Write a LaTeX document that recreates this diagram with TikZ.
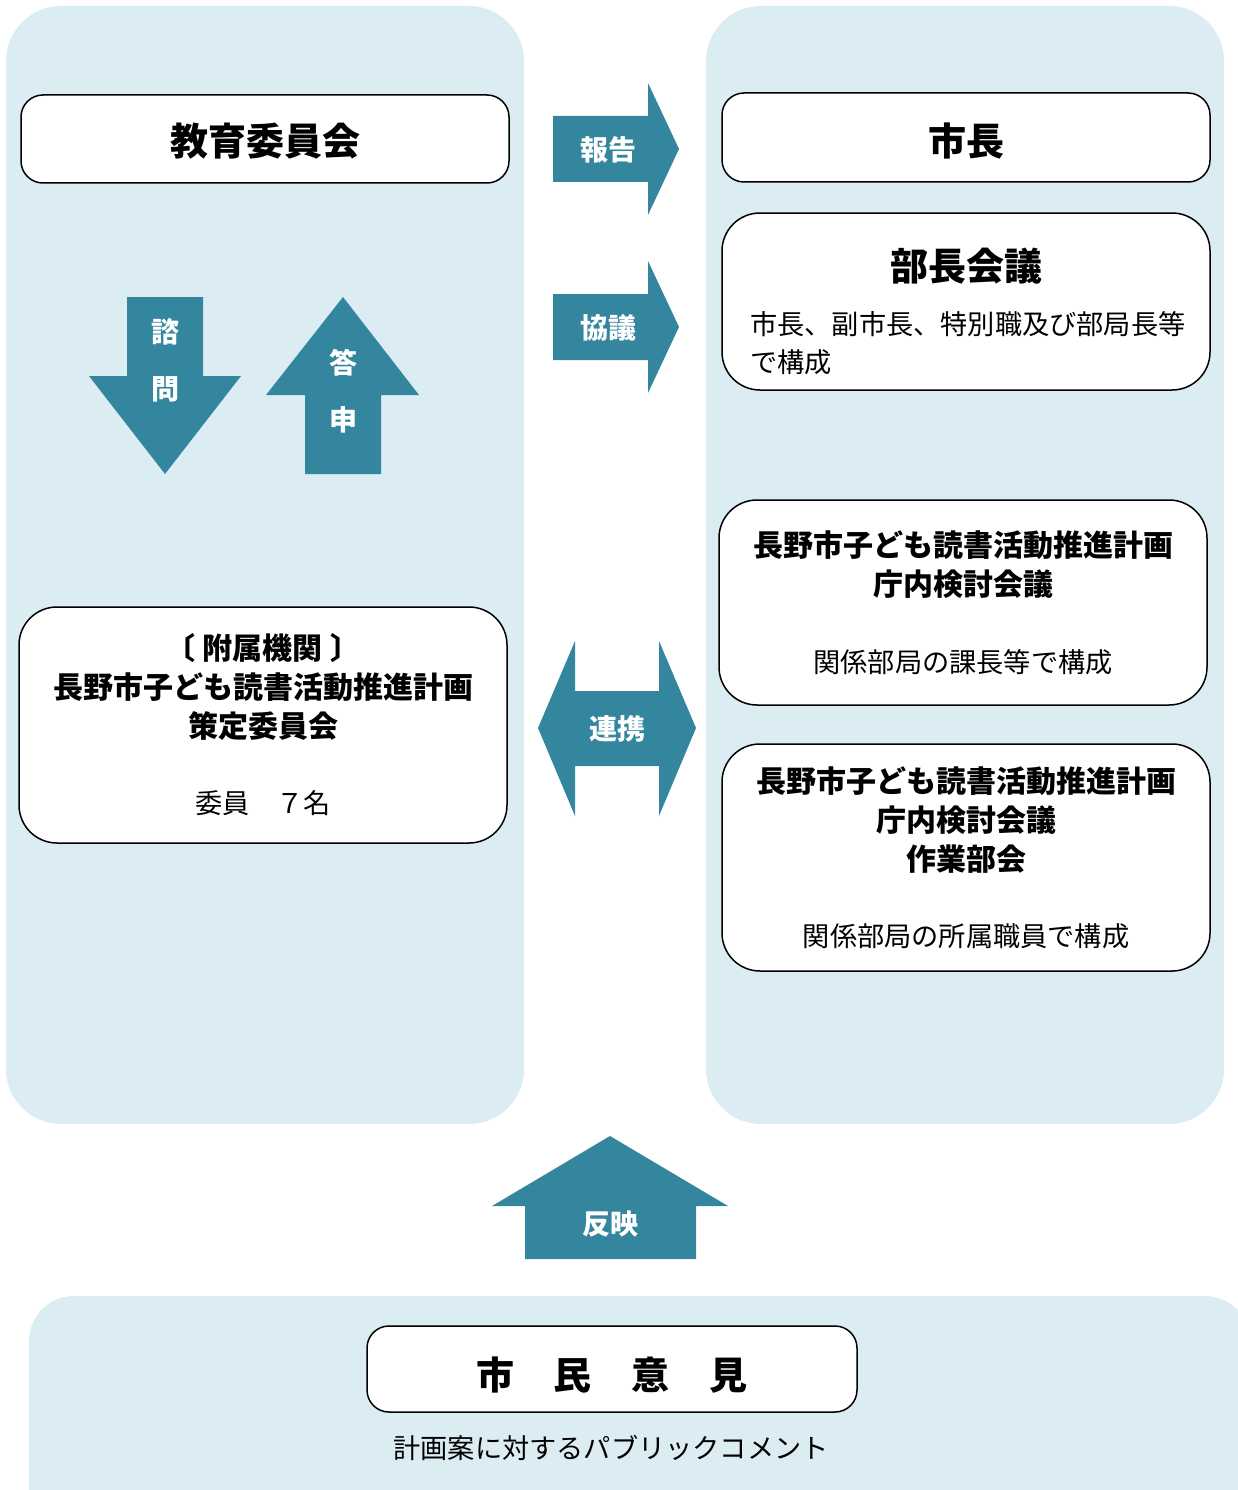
\documentclass[tikz,border=0pt]{standalone}
\usepackage{fontspec}
\setmainfont{Noto Sans CJK JP}
\definecolor{panelc}{HTML}{DBEDF3}
\definecolor{arrowc}{HTML}{33869E}
\begin{document}
\begin{tikzpicture}[x=1pt,y=-1pt,
  box/.style={fill=white, draw=black, line width=1.5pt, rounded corners=22pt, inner sep=0pt},
  bigbox/.style={box, rounded corners=38pt},
  barrow/.style={fill=arrowc, draw=none},
  alabel/.style={text=white, font=\bfseries\fontsize{28}{28}\selectfont, inner sep=0pt},
  title/.style={font=\bfseries\fontsize{38}{38}\selectfont, inner sep=0pt},
  sub/.style={font=\bfseries\fontsize{30}{39}\selectfont, inner sep=0pt, align=center},
  body/.style={font=\fontsize{27.2}{38}\selectfont, inner sep=0pt},
]
\useasboundingbox (0,0) rectangle (1238,1490);
% panels
\fill[panelc, rounded corners=55pt] (6,6) rectangle (524,1124);
\fill[panelc, rounded corners=55pt] (706,6) rectangle (1224,1124);
\begin{scope}
\clip (0,0) rectangle (1238,1490);
\fill[panelc, rounded corners=45pt] (29,1296) rectangle (1250,1560);
\end{scope}

% boxes
\node[box, minimum width=488pt, minimum height=88pt] (edu) at (265,139) {};
\node[title] (edut) at (265,141) {教育委員会};
\node[box, minimum width=488pt, minimum height=89pt] (mayor) at (966,137.5) {};
\node[title] (mayort) at (966,141) {市長};
\node[bigbox, minimum width=488pt, minimum height=177pt] (bucho) at (966,301.5) {};
\node[title] (buchot) at (966,266) {部長会議};
\node[body, anchor=west] (bucho1) at (750,324) {市長、副市長、特別職及び部局長等};
\node[body, anchor=west] (bucho2) at (750,362) {で構成};

\node[bigbox, minimum width=488pt, minimum height=205pt] (chonai) at (963,602.5) {};
\node[sub] (chonait) at (963,565) {長野市子ども読書活動推進計画\\庁内検討会議};
\node[body] (chonaib) at (963,662) {関係部局の課長等で構成};

\node[bigbox, minimum width=488pt, minimum height=227pt] (sagyo) at (966,857.5) {};
\node[sub] (sagyot) at (966,820) {長野市子ども読書活動推進計画\\庁内検討会議\\作業部会};
\node[body] (sagyob) at (966,936) {関係部局の所属職員で構成};

\node[bigbox, minimum width=488pt, minimum height=236pt] (fuzoku) at (263,725) {};
\node[sub] (fuzokut) at (263,687) {〔\hspace{8pt}附属機関\hspace{8pt}〕\\長野市子ども読書活動推進計画\\策定委員会};
\node[body] (fuzokub) at (263,803) {委員　７名};

\node[box, minimum width=490pt, minimum height=86pt] (shimin) at (612,1369) {};
\node[title] (shimint) at (612,1375) {市\hspace{40pt}民\hspace{40pt}意\hspace{40pt}見};
\node[body] (pub) at (611,1448) {計画案に対するパブリックコメント};

% block arrows
\fill[barrow] (553,116) -- (648,116) -- (648,83) -- (679,149) -- (648,215) -- (648,182) -- (553,182) -- cycle;
\node[alabel] (hokoku) at (608,150) {報告};
\fill[barrow] (553,294) -- (648,294) -- (648,261) -- (679,327) -- (648,393) -- (648,360) -- (553,360) -- cycle;
\node[alabel] (kyogi) at (608,328) {協議};
\fill[barrow] (127,297) -- (203,297) -- (203,376) -- (241,376) -- (165,474) -- (89,376) -- (127,376) -- cycle;
\node[alabel] (shi) at (165,332) {諮};
\node[alabel] (mon) at (165,389) {問};
\fill[barrow] (343,297) -- (419,395) -- (381,395) -- (381,474) -- (305,474) -- (305,395) -- (266,395) -- cycle;
\node[alabel] (to) at (343,363) {答};
\node[alabel] (shin) at (343,420) {申};
\fill[barrow] (538,728) -- (575,641) -- (575,691) -- (659,691) -- (659,641) -- (696,728) -- (659,816) -- (659,766) -- (575,766) -- (575,816) -- cycle;
\node[alabel] (renkei) at (617,729) {連携};
\fill[barrow] (610,1136) -- (728,1206) -- (696,1206) -- (696,1259) -- (525,1259) -- (525,1206) -- (492,1206) -- cycle;
\node[alabel] (hanei) at (610,1224) {反映};
\end{tikzpicture}
\end{document}
